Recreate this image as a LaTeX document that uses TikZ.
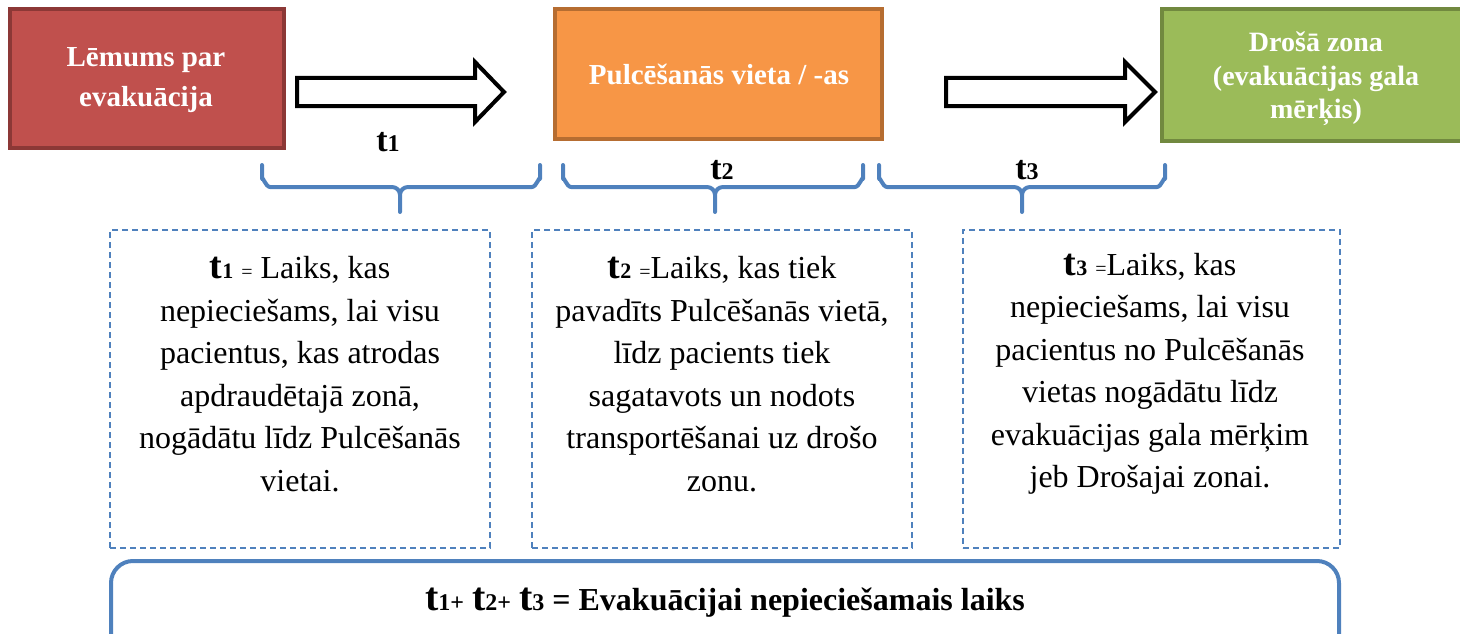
\documentclass[tikz,border=0pt]{standalone}
\usepackage{fontspec}
\setmainfont{Liberation Serif}
\definecolor{redfill}{HTML}{C0504D}
\definecolor{redline}{HTML}{8C3836}
\definecolor{orfill}{HTML}{F79646}
\definecolor{orline}{HTML}{B66D31}
\definecolor{grfill}{HTML}{9BBB59}
\definecolor{grline}{HTML}{71893F}
\definecolor{blueline}{HTML}{4F81BD}
\newcommand\bigT[1]{{\fontsize{34}{34}\selectfont\bfseries t}{\fontsize{24}{24}\selectfont\bfseries #1}}
\newcommand\bodyT[1]{{\fontsize{38}{38}\selectfont\bfseries t}{\fontsize{22}{22}\selectfont\bfseries #1}}
\newcommand\sumT[1]{{\fontsize{40}{40}\selectfont\bfseries t}{\fontsize{24}{24}\selectfont\bfseries #1}}
\newcommand\smallEq{{\fontsize{20}{20}\selectfont =}}
\begin{document}
\begin{tikzpicture}[x=1pt,y=-1pt,
  stagebox/.style={rectangle, line width=4pt},
  stagetext/.style={align=center, text=white, font=\fontsize{29}{40}\selectfont\bfseries},
  blockarrow/.style={draw=black, fill=white, line width=4pt, line join=miter},
  brace/.style={draw=blueline, line width=4pt, line cap=round, line join=round},
  descbox/.style={draw=blueline, line width=1.5pt, dash pattern=on 6pt off 4pt, rectangle},
  desctext/.style={align=center, font=\fontsize{32}{42.5}\selectfont},
  tlabel/.style={inner sep=0pt},
  sumbox/.style={draw=blueline, line width=4pt, rounded corners=22pt, rectangle}
]
\useasboundingbox (0,0) rectangle (1460,634);
\clip (0,0) rectangle (1460,634);

% stage boxes
\node[stagebox, fill=redfill, draw=redline, minimum width=274pt, minimum height=138pt] (b1) at (146.5,78.5) {};
\node[stagetext] (b1t) at (146,80) {Lēmums par\\evakuācija};
\node[stagebox, fill=orfill, draw=orline, minimum width=327pt, minimum height=130pt] (b2) at (718.5,74) {};
\node[stagetext] (b2t) at (719,74) {Pulcēšanās vieta / -as};
\node[stagebox, fill=grfill, draw=grline, minimum width=310pt, minimum height=132pt] (b3) at (1317,75) {};
\node[stagetext, font=\fontsize{28}{33.5}\selectfont\bfseries] (b3t) at (1316,79) {Drošā zona\\(evakuācijas gala\\mērķis)};

% block arrows
\draw[blockarrow] (297,78) -- (475,78) -- (475,62) -- (504,92) -- (475,122) -- (475,106) -- (297,106) -- cycle;
\draw[blockarrow] (946,78) -- (1125,78) -- (1125,62) -- (1155,92) -- (1125,122) -- (1125,106) -- (946,106) -- cycle;

% t labels
\node[tlabel] (l1) at (388,142) {\bigT{1}};
\node[tlabel] (l2) at (722,170) {\bigT{2}};
\node[tlabel] (l3) at (1027,170) {\bigT{3}};

% braces
\draw[brace] (262,165) -- (262,179) to[out=90,in=180] (270,187) -- (392,187) to[out=0,in=90] (400,195) -- (400,212)
  (400,195) to[out=90,in=180] (408,187) -- (532,187) to[out=0,in=90] (540,179) -- (540,165);
\draw[brace] (563,165) -- (563,179) to[out=90,in=180] (571,187) -- (707,187) to[out=0,in=90] (715,195) -- (715,212)
  (715,195) to[out=90,in=180] (723,187) -- (855,187) to[out=0,in=90] (863,179) -- (863,165);
\draw[brace] (879,165) -- (879,179) to[out=90,in=180] (887,187) -- (1014,187) to[out=0,in=90] (1022,195) -- (1022,212)
  (1022,195) to[out=90,in=180] (1030,187) -- (1157,187) to[out=0,in=90] (1165,179) -- (1165,165);

% description boxes
\node[descbox, minimum width=380pt, minimum height=318pt] (d1) at (300,389) {};
\node[descbox, minimum width=380pt, minimum height=318pt] (d2) at (722,389) {};
\node[descbox, minimum width=377pt, minimum height=318pt] (d3) at (1151.5,389) {};

\node[desctext] (d1t) at (300,374) {\bodyT{1} \smallEq{} Laiks, kas\\nepieciešams, lai visu\\pacientus, kas atrodas\\apdraudētajā zonā,\\nogādātu līdz Pulcēšanās\\vietai.};
\node[desctext] (d2t) at (722,374) {\bodyT{2} \smallEq{}Laiks, kas tiek\\pavadīts Pulcēšanās vietā,\\līdz pacients tiek\\sagatavots un nodots\\transportēšanai uz drošo\\zonu.};
\node[desctext] (d3t) at (1150,374) {\bodyT{3} \smallEq{}Laiks, kas\\nepieciešams, lai visu\\pacientus no Pulcēšanās\\vietas nogādātu līdz\\evakuācijas gala mērķim\\jeb Drošajai zonai.};

% sum box
\node[sumbox, minimum width=1228pt, minimum height=100pt] (s) at (725,611) {};
\node[font=\fontsize{32}{32}\selectfont\bfseries] (st) at (725,603)
  {\sumT{1}{\fontsize{24}{24}\selectfont\bfseries +} \sumT{2}{\fontsize{24}{24}\selectfont\bfseries +} \sumT{3} = Evakuācijai nepieciešamais laiks};
\end{tikzpicture}
\end{document}
